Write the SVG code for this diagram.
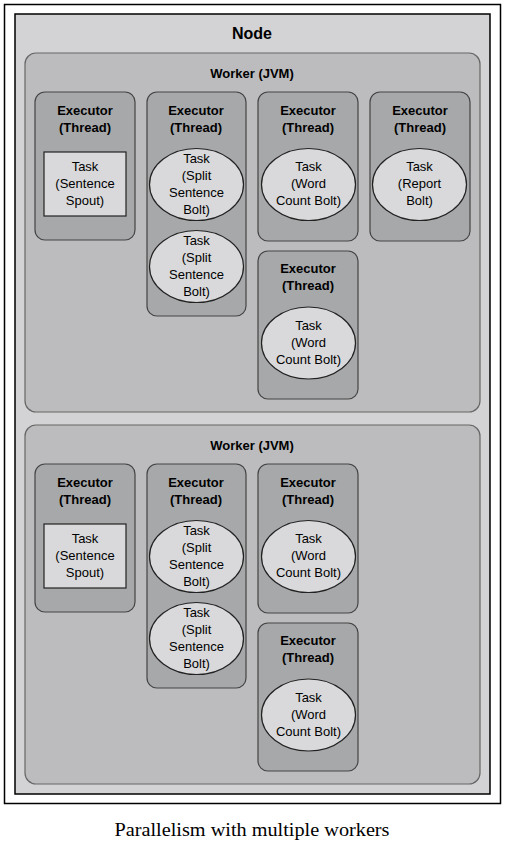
<svg xmlns="http://www.w3.org/2000/svg" width="505" height="843" viewBox="0 0 505 843">
<style>
.frame{fill:#fff;stroke:#000;stroke-width:1.5}
.node{fill:#d3d3d5;stroke:#000;stroke-width:1.5}
.worker{fill:#bcbcbe;stroke:#666;stroke-width:1.2}
.exec{fill:#a7a8aa;stroke:#444;stroke-width:1.2}
.task{fill:#d9d9db;stroke:#222;stroke-width:1.2}
.t{font-family:"Liberation Sans",Arial,sans-serif;text-anchor:middle;fill:#000}
.h1{font-size:16px;font-weight:bold}
.h2{font-size:13px;font-weight:bold}
.n{font-size:13px}
.cap{font-family:"Liberation Serif","Times New Roman",serif;font-size:18px;text-anchor:middle;fill:#000}
</style>
<rect class="frame" x="4.5" y="4.5" width="496" height="799"/>
<g id="node">
<rect class="node" x="15" y="14" width="475" height="780"/>
<text class="t h1" x="252" y="39">Node</text>
</g>
<g id="worker1">
<rect class="worker" x="25" y="53" width="455" height="359" rx="11"/>
<text class="t h2" x="252" y="78">Worker (JVM)</text>
</g>
<g id="w1-exec1">
<rect class="exec" x="35" y="92" width="100" height="148" rx="10"/>
<text class="t h2" x="85" y="115">Executor</text><text class="t h2" x="85" y="132">(Thread)</text>
<rect class="task" x="44" y="152" width="82" height="64"/>
<text class="t n" x="85" y="171">Task</text><text class="t n" x="85" y="188">(Sentence</text><text class="t n" x="85" y="205">Spout)</text>
</g>
<g id="w1-exec2">
<rect class="exec" x="147" y="92" width="99" height="224" rx="10"/>
<text class="t h2" x="196" y="115">Executor</text><text class="t h2" x="196" y="132">(Thread)</text>
<ellipse class="task" cx="196.5" cy="184.5" rx="47" ry="36"/>
<text class="t n" x="196.5" y="163">Task</text><text class="t n" x="196.5" y="180">(Split</text><text class="t n" x="196.5" y="197">Sentence</text><text class="t n" x="196.5" y="214">Bolt)</text>
<ellipse class="task" cx="196.5" cy="266.5" rx="47" ry="36"/>
<text class="t n" x="196.5" y="245">Task</text><text class="t n" x="196.5" y="262">(Split</text><text class="t n" x="196.5" y="279">Sentence</text><text class="t n" x="196.5" y="296">Bolt)</text>
</g>
<g id="w1-exec3">
<rect class="exec" x="258" y="92" width="100" height="149" rx="10"/>
<text class="t h2" x="308" y="115">Executor</text><text class="t h2" x="308" y="132">(Thread)</text>
<ellipse class="task" cx="308.5" cy="184.5" rx="47" ry="36"/>
<text class="t n" x="308.5" y="171">Task</text><text class="t n" x="308.5" y="188">(Word</text><text class="t n" x="308.5" y="205">Count Bolt)</text>
</g>
<g id="w1-exec4">
<rect class="exec" x="370" y="92" width="100" height="149" rx="10"/>
<text class="t h2" x="420" y="115">Executor</text><text class="t h2" x="420" y="132">(Thread)</text>
<ellipse class="task" cx="419.5" cy="184.5" rx="47" ry="36"/>
<text class="t n" x="419.5" y="171">Task</text><text class="t n" x="419.5" y="188">(Report</text><text class="t n" x="419.5" y="205">Bolt)</text>
</g>
<g id="w1-exec5">
<rect class="exec" x="258" y="251" width="100" height="148" rx="10"/>
<text class="t h2" x="308" y="273">Executor</text><text class="t h2" x="308" y="290">(Thread)</text>
<ellipse class="task" cx="308.5" cy="343" rx="47" ry="36"/>
<text class="t n" x="308.5" y="330">Task</text><text class="t n" x="308.5" y="347">(Word</text><text class="t n" x="308.5" y="364">Count Bolt)</text>
</g>
<g id="worker2">
<rect class="worker" x="25" y="425" width="455" height="359" rx="11"/>
<text class="t h2" x="252" y="450">Worker (JVM)</text>
</g>
<g id="w2-exec1">
<rect class="exec" x="35" y="464" width="100" height="148" rx="10"/>
<text class="t h2" x="85" y="487">Executor</text><text class="t h2" x="85" y="504">(Thread)</text>
<rect class="task" x="44" y="524" width="82" height="64"/>
<text class="t n" x="85" y="543">Task</text><text class="t n" x="85" y="560">(Sentence</text><text class="t n" x="85" y="577">Spout)</text>
</g>
<g id="w2-exec2">
<rect class="exec" x="147" y="464" width="99" height="224" rx="10"/>
<text class="t h2" x="196" y="487">Executor</text><text class="t h2" x="196" y="504">(Thread)</text>
<ellipse class="task" cx="196.5" cy="556.5" rx="47" ry="36"/>
<text class="t n" x="196.5" y="535">Task</text><text class="t n" x="196.5" y="552">(Split</text><text class="t n" x="196.5" y="569">Sentence</text><text class="t n" x="196.5" y="586">Bolt)</text>
<ellipse class="task" cx="196.5" cy="638.5" rx="47" ry="36"/>
<text class="t n" x="196.5" y="617">Task</text><text class="t n" x="196.5" y="634">(Split</text><text class="t n" x="196.5" y="651">Sentence</text><text class="t n" x="196.5" y="668">Bolt)</text>
</g>
<g id="w2-exec3">
<rect class="exec" x="258" y="464" width="100" height="149" rx="10"/>
<text class="t h2" x="308" y="487">Executor</text><text class="t h2" x="308" y="504">(Thread)</text>
<ellipse class="task" cx="308.5" cy="556.5" rx="47" ry="36"/>
<text class="t n" x="308.5" y="543">Task</text><text class="t n" x="308.5" y="560">(Word</text><text class="t n" x="308.5" y="577">Count Bolt)</text>
</g>
<g id="w2-exec5">
<rect class="exec" x="258" y="623" width="100" height="148" rx="10"/>
<text class="t h2" x="308" y="645">Executor</text><text class="t h2" x="308" y="662">(Thread)</text>
<ellipse class="task" cx="308.5" cy="715" rx="47" ry="36"/>
<text class="t n" x="308.5" y="702">Task</text><text class="t n" x="308.5" y="719">(Word</text><text class="t n" x="308.5" y="736">Count Bolt)</text>
</g>
<g id="connectors"/>
<text class="cap" x="252" y="836" textLength="275" lengthAdjust="spacingAndGlyphs">Parallelism with multiple workers</text>
</svg>
